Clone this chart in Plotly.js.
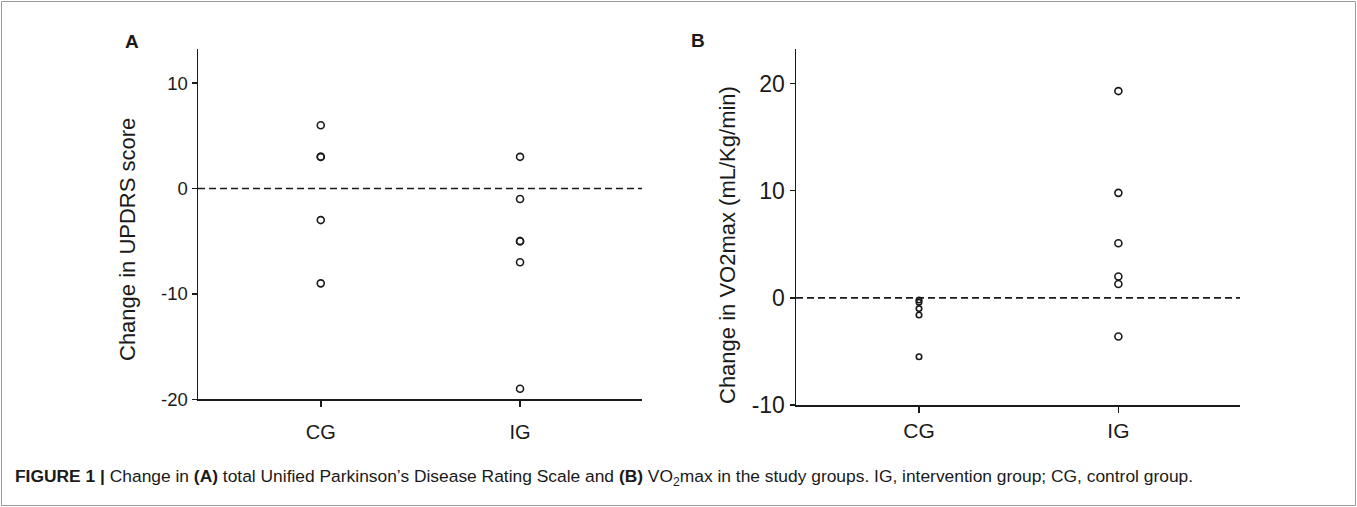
<!DOCTYPE html>
<html>
<head>
<meta charset="utf-8">
<script src="https://cdn.plot.ly/plotly-3.0.1.min.js"></script>
<style>
html,body{margin:0;padding:0;background:#fff;}
#chart{width:1357px;height:507px;}
</style>
</head>
<body>
<div id="chart"></div>
<script>
// ---- data ----
const categories = ['CG', 'IG'];
const updrsCG = [6, 3, 3, -3, -9];
const updrsIG = [3, -1, -5, -5, -7, -19];
const vo2CG = [-0.2, -0.4, -1.0, -1.6, -5.5];
const vo2IG = [19.3, 9.8, 5.1, 2.0, 1.3, -3.6];
const refLine = 0;
const ticksA = [-20, -10, 0, 10];
const ticksB = [-10, 0, 10, 20];

// ---- layout helpers ----
const W = 1357, H = 507;
const px = v => v / W;
const py = v => 1 - v / H;
const ink = '#1a1a1a';
const fam = 'Liberation Sans, Arial, Helvetica, sans-serif';

function pos(cat, n) { return new Array(n).fill(categories.indexOf(cat)); }

function scatter(y, cat, xa, ya, size) {
  return {
    type: 'scatter', mode: 'markers',
    x: pos(cat, y.length), y: y,
    xaxis: xa, yaxis: ya,
    marker: { symbol: 'circle-open', size: size, color: ink, line: { width: 1.6, color: ink } },
    showlegend: false, hoverinfo: 'y'
  };
}

const traces = [
  scatter(updrsCG, 'CG', 'x', 'y', 7),
  scatter(updrsIG, 'IG', 'x', 'y', 7),
  scatter(vo2CG, 'CG', 'x2', 'y2', 5.5),
  scatter(vo2IG, 'IG', 'x2', 'y2', 7)
];

const xCommon = {
  tickmode: 'array', tickvals: [0, 1], ticktext: categories,
  showline: true, linecolor: ink, linewidth: 1.5,
  ticks: 'outside', ticklen: 6, tickwidth: 1.5, tickcolor: ink,
  showgrid: false, zeroline: false, fixedrange: true
};
const yCommon = {
  tickmode: 'array',
  showline: true, linecolor: ink, linewidth: 1.5,
  ticks: 'outside', ticklen: 5, tickwidth: 1.5, tickcolor: ink,
  showgrid: false, zeroline: false, fixedrange: true
};

const layout = {
  width: W, height: H,
  margin: { l: 0, r: 0, t: 0, b: 0 },
  paper_bgcolor: '#fff', plot_bgcolor: 'rgba(0,0,0,0)',
  font: { family: fam, color: ink },
  showlegend: false,
  xaxis: Object.assign({}, xCommon, {
    domain: [px(198), px(642)], range: [-0.616, 1.612], anchor: 'y',
    ticklabelstandoff: 8,
    tickfont: { size: 20, family: fam, color: ink }
  }),
  yaxis: Object.assign({}, yCommon, {
    domain: [py(399.3), py(49.3)], range: [-20, 13.2], anchor: 'x',
    tickvals: ticksA, ticktext: ticksA.map(String),
    tickfont: { size: 18.5, family: fam, color: ink }
  }),
  xaxis2: Object.assign({}, xCommon, {
    domain: [px(796), px(1240)], range: [-0.617, 1.61], anchor: 'y2',
    tickfont: { size: 21, family: fam, color: ink }
  }),
  yaxis2: Object.assign({}, yCommon, {
    domain: [py(405), py(49.3)], range: [-10, 23.2], anchor: 'x2',
    tickvals: ticksB, ticktext: ticksB.map(String),
    tickfont: { size: 23, family: fam, color: ink }
  }),
  shapes: [
    { type: 'line', xref: 'x domain', yref: 'y', x0: 0, x1: 1, y0: refLine, y1: refLine,
      line: { color: ink, width: 1.6, dash: '7px,4px' } },
    { type: 'line', xref: 'x2 domain', yref: 'y2', x0: 0, x1: 1, y0: refLine, y1: refLine,
      line: { color: ink, width: 1.6, dash: '7px,4px' } },
    { type: 'rect', xref: 'paper', yref: 'paper', x0: px(1.5), x1: px(W - 1.5), y0: py(H - 1.5), y1: py(1.5),
      line: { color: '#9a9a9a', width: 1 }, fillcolor: 'rgba(0,0,0,0)' }
  ],
  annotations: [
    { text: '<b>A</b>', xref: 'paper', yref: 'paper', x: px(132), y: py(42),
      xanchor: 'center', yanchor: 'middle', showarrow: false, font: { size: 19, family: fam, color: ink } },
    { text: '<b>B</b>', xref: 'paper', yref: 'paper', x: px(698), y: py(41),
      xanchor: 'center', yanchor: 'middle', showarrow: false, font: { size: 19, family: fam, color: ink } },
    { text: 'Change in UPDRS score', xref: 'paper', yref: 'paper', x: px(127), y: py(240),
      xanchor: 'center', yanchor: 'middle', textangle: -90, showarrow: false,
      font: { size: 22, family: fam, color: ink } },
    { text: 'Change in VO2max (mL/Kg/min)', xref: 'paper', yref: 'paper', x: px(727), y: py(245),
      xanchor: 'center', yanchor: 'middle', textangle: -90, showarrow: false,
      font: { size: 22, family: fam, color: ink } },
    { text: '<b>FIGURE 1 |</b> Change in <b>(A)</b> total Unified Parkinson\u2019s Disease Rating Scale and <b>(B)</b> VO<sub>2</sub>max in the study groups. IG, intervention group; CG, control group.',
      xref: 'paper', yref: 'paper', x: px(13), y: py(477), xanchor: 'left', yanchor: 'middle',
      showarrow: false, font: { size: 17.4, family: fam, color: ink } }
  ]
};

Plotly.newPlot('chart', traces, layout, { displayModeBar: false, staticPlot: true });
</script>
</body>
</html>
